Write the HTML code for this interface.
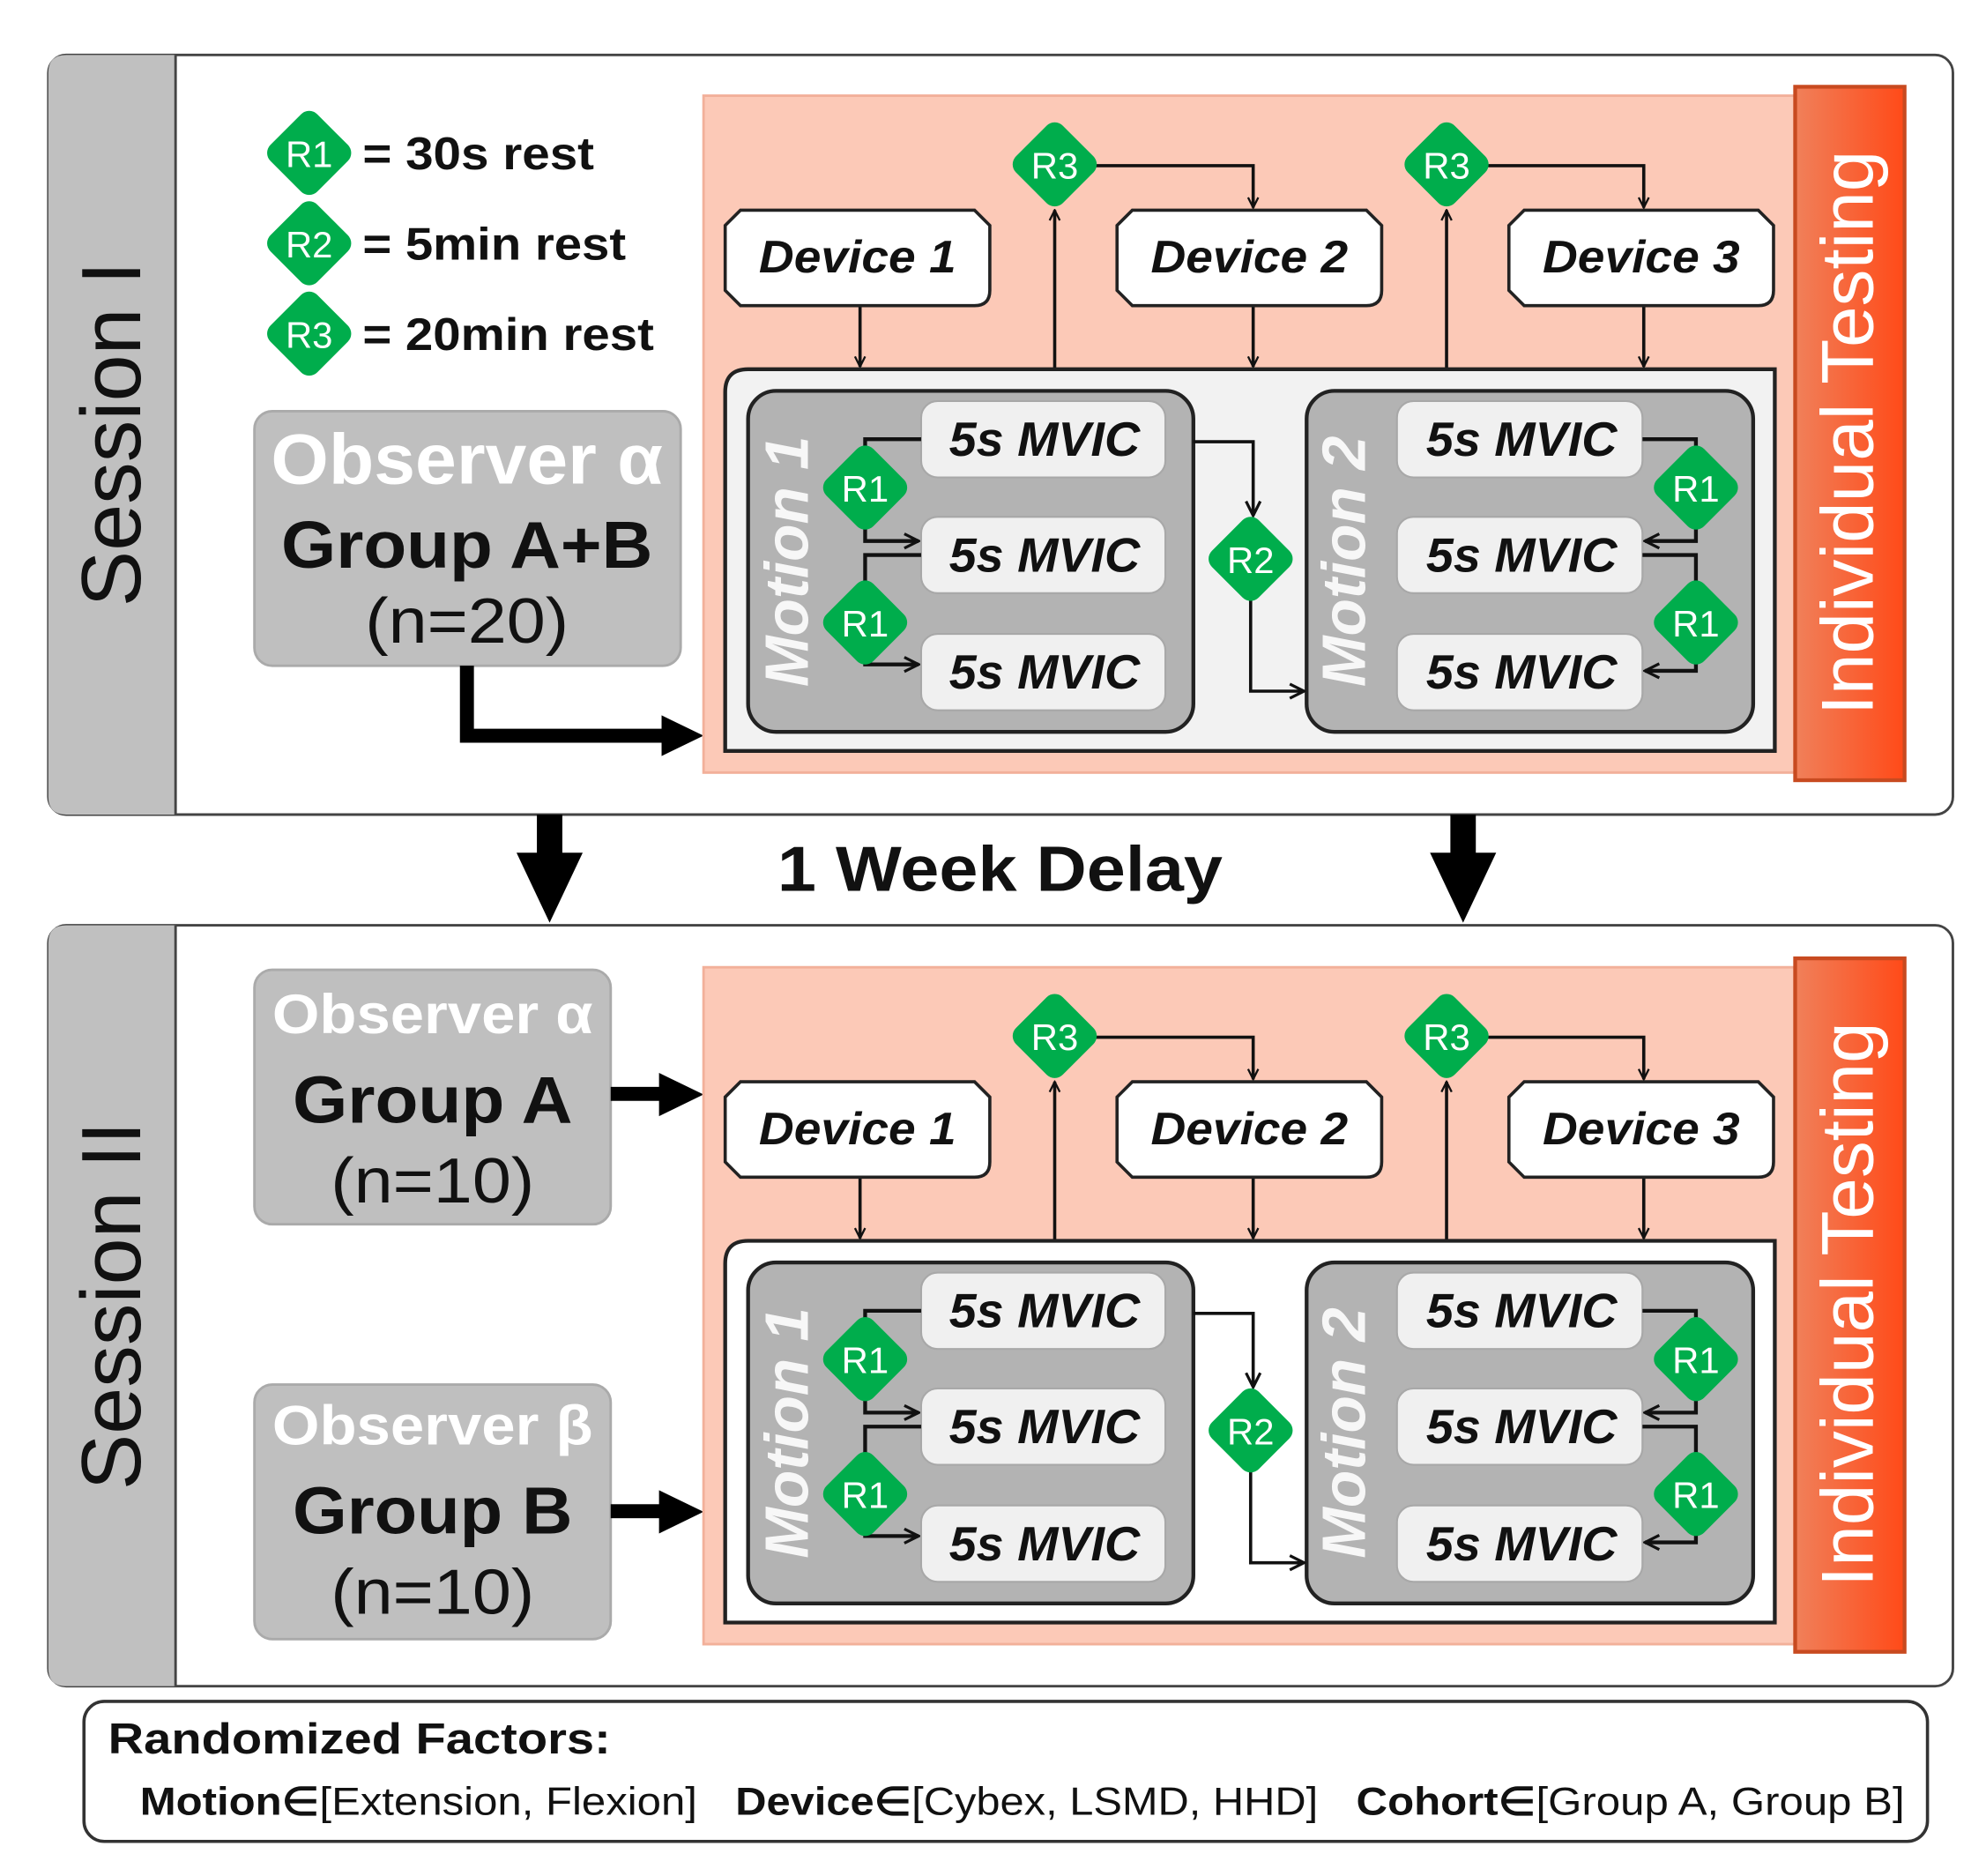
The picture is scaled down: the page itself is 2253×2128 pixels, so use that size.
<!DOCTYPE html>
<html><head><meta charset="utf-8"><style>
html,body{margin:0;padding:0;background:#fff;}
svg{display:block;}
text{font-family:"Liberation Sans",sans-serif;}
</style></head><body>
<svg width="2253" height="2128" viewBox="0 0 1561 1474" xmlns="http://www.w3.org/2000/svg">
<defs>
<marker id="a" viewBox="0 0 10 10" refX="9" refY="5" markerWidth="10" markerHeight="10" orient="auto" markerUnits="userSpaceOnUse">
<path d="M1,1 L9,5 L1,9" fill="none" stroke="#111" stroke-width="1.6"/></marker>
<marker id="am" viewBox="0 0 10 10" refX="9" refY="5" markerWidth="14" markerHeight="14" orient="auto" markerUnits="userSpaceOnUse">
<path d="M1,1 L9,5 L1,9" fill="none" stroke="#111" stroke-width="1.6"/></marker>
<linearGradient id="og" x1="0" x2="1" y1="0" y2="0"><stop offset="0" stop-color="#f0805a"/><stop offset="1" stop-color="#ff4a18"/></linearGradient>
<g id="dia"><rect x="-26" y="-26" width="52" height="52" rx="9" transform="rotate(45)" fill="#00ad4c"/></g>
</defs>

<rect x="38" y="43" width="1497" height="597" rx="14" fill="#fff" stroke="#444" stroke-width="2"/>
<path d="M52,43 H138 V640 H52 Q38,640 38,626 V57 Q38,43 52,43Z" fill="#c0c0c0"/>
<line x1="138" y1="43" x2="138" y2="640" stroke="#444" stroke-width="2"/>
<text transform="translate(110,341) rotate(-90)" text-anchor="middle" font-size="66" fill="#111">Session I</text>

<use href="#dia" x="243" y="120"/><text x="243" y="131" text-anchor="middle" font-size="29" fill="#fff">R1</text>
<use href="#dia" x="243" y="191"/><text x="243" y="202" text-anchor="middle" font-size="29" fill="#fff">R2</text>
<use href="#dia" x="243" y="262"/><text x="243" y="273" text-anchor="middle" font-size="29" fill="#fff">R3</text>
<text x="285" y="133" font-size="36" font-weight="bold" fill="#111" textLength="182" lengthAdjust="spacingAndGlyphs">= 30s rest</text>
<text x="285" y="204" font-size="36" font-weight="bold" fill="#111" textLength="207" lengthAdjust="spacingAndGlyphs">= 5min rest</text>
<text x="285" y="275" font-size="36" font-weight="bold" fill="#111" textLength="229" lengthAdjust="spacingAndGlyphs">= 20min rest</text>

<rect x="200" y="323" width="335" height="200" rx="14" fill="#bfbfbf" stroke="#aaa" stroke-width="2"/>
<text x="367" y="380" text-anchor="middle" font-size="56" font-weight="bold" fill="#fff" textLength="308" lengthAdjust="spacingAndGlyphs">Observer α</text>
<text x="367" y="446" text-anchor="middle" font-size="52" font-weight="bold" fill="#111" textLength="292" lengthAdjust="spacingAndGlyphs">Group A+B</text>
<text x="367" y="505" text-anchor="middle" font-size="50" fill="#111" textLength="160" lengthAdjust="spacingAndGlyphs">(n=20)</text>
<path d="M367,523 V578 H525" fill="none" stroke="#000" stroke-width="11"/>
<path d="M520,562 L553,578 L520,594Z" fill="#000"/>

<g>
<rect x="553" y="75" width="860" height="532" fill="#fcc9b7" stroke="#f2b09a" stroke-width="2"/>
<rect x="1411" y="68" width="86" height="545" fill="url(#og)" stroke="#c84a20" stroke-width="3"/>
<text transform="translate(1472,340) rotate(-90)" text-anchor="middle" font-size="58" fill="#fff">Individual Testing</text>
<g stroke="#111" stroke-width="2.5" fill="none">
<path d="M676,240 V288" marker-end="url(#a)"/>
<path d="M985,240 V288" marker-end="url(#a)"/>
<path d="M1292,240 V288" marker-end="url(#a)"/>
<path d="M829,290 V165" marker-end="url(#a)"/>
<path d="M1137,290 V165" marker-end="url(#a)"/>
<path d="M860,130 H985 V163" marker-end="url(#a)"/>
<path d="M1168,130 H1292 V163" marker-end="url(#a)"/>
</g>
<use href="#dia" x="829" y="129"/><text x="829" y="140" text-anchor="middle" font-size="29" fill="#fff">R3</text>
<use href="#dia" x="1137" y="129"/><text x="1137" y="140" text-anchor="middle" font-size="29" fill="#fff">R3</text>
<g fill="#fff" stroke="#222" stroke-width="2.5">
<path d="M582,165 H766 L778,177 V228 Q778,240 766,240 H582 L570,228 V177Z"/>
<path d="M890,165 H1074 L1086,177 V228 Q1086,240 1074,240 H890 L878,228 V177Z"/>
<path d="M1198,165 H1382 L1394,177 V228 Q1394,240 1382,240 H1198 L1186,228 V177Z"/>
</g>
<g font-size="36" font-weight="bold" font-style="italic" fill="#111" text-anchor="middle">
<text x="674" y="214" textLength="155" lengthAdjust="spacingAndGlyphs">Device 1</text>
<text x="982" y="214" textLength="155" lengthAdjust="spacingAndGlyphs">Device 2</text>
<text x="1290" y="214" textLength="155" lengthAdjust="spacingAndGlyphs">Device 3</text>
</g>
<path d="M588,290 H1395 V590 H570 V308 Q570,290 588,290Z" fill="#f2f2f2" stroke="#222" stroke-width="3"/>
<rect x="588" y="307" width="350" height="268" rx="22" fill="#b3b3b3" stroke="#222" stroke-width="3"/>
<rect x="1027" y="307" width="351" height="268" rx="22" fill="#b3b3b3" stroke="#222" stroke-width="3"/>
<text transform="translate(635,441) rotate(-90)" text-anchor="middle" font-size="48" font-weight="bold" font-style="italic" fill="#fff" opacity="0.9">Motion 1</text>
<text transform="translate(1073,441) rotate(-90)" text-anchor="middle" font-size="48" font-weight="bold" font-style="italic" fill="#fff" opacity="0.9">Motion 2</text>
<g fill="#f0f0f0" stroke="#a8a8a8" stroke-width="1.5">
<rect x="724" y="315" width="192" height="60" rx="13"/>
<rect x="724" y="406" width="192" height="60" rx="13"/>
<rect x="724" y="498" width="192" height="60" rx="13"/>
<rect x="1098" y="315" width="193" height="60" rx="13"/>
<rect x="1098" y="406" width="193" height="60" rx="13"/>
<rect x="1098" y="498" width="193" height="60" rx="13"/>
</g>
<g font-size="38" font-weight="bold" font-style="italic" fill="#111" text-anchor="middle">
<text x="821" y="358" textLength="150" lengthAdjust="spacingAndGlyphs">5s MVIC</text>
<text x="821" y="449" textLength="150" lengthAdjust="spacingAndGlyphs">5s MVIC</text>
<text x="821" y="541" textLength="150" lengthAdjust="spacingAndGlyphs">5s MVIC</text>
<text x="1196" y="358" textLength="150" lengthAdjust="spacingAndGlyphs">5s MVIC</text>
<text x="1196" y="449" textLength="150" lengthAdjust="spacingAndGlyphs">5s MVIC</text>
<text x="1196" y="541" textLength="150" lengthAdjust="spacingAndGlyphs">5s MVIC</text>
</g>
<g stroke="#111" stroke-width="3" fill="none">
<path d="M724,345 H680 V360"/>
<path d="M680,410 V425 H722" marker-end="url(#am)"/>
<path d="M724,436 H680 V460"/>
<path d="M680,515 V522 H722" marker-end="url(#am)"/>
<path d="M1291,345 H1333 V360"/>
<path d="M1333,410 V425 H1293" marker-end="url(#am)"/>
<path d="M1291,436 H1333 V460"/>
<path d="M1333,515 V527 H1293" marker-end="url(#am)"/>
<path d="M938,347 H985 V405" marker-end="url(#am)" stroke-width="2.5"/>
<path d="M983,470 V543 H1025" marker-end="url(#am)" stroke-width="2.5"/>
</g>
<use href="#dia" x="680" y="383"/><text x="680" y="394" text-anchor="middle" font-size="29" fill="#fff">R1</text>
<use href="#dia" x="680" y="489"/><text x="680" y="500" text-anchor="middle" font-size="29" fill="#fff">R1</text>
<use href="#dia" x="1333" y="383"/><text x="1333" y="394" text-anchor="middle" font-size="29" fill="#fff">R1</text>
<use href="#dia" x="1333" y="489"/><text x="1333" y="500" text-anchor="middle" font-size="29" fill="#fff">R1</text>
<use href="#dia" x="983" y="439"/><text x="983" y="450" text-anchor="middle" font-size="29" fill="#fff">R2</text>
</g>

<rect x="422" y="640" width="20" height="35" fill="#000"/>
<path d="M406,670 L458,670 L432,725Z" fill="#000"/>
<rect x="1140" y="640" width="20" height="35" fill="#000"/>
<path d="M1124,670 L1176,670 L1150,725Z" fill="#000"/>
<text x="786" y="700" text-anchor="middle" font-size="50" font-weight="bold" fill="#111" textLength="350" lengthAdjust="spacingAndGlyphs">1 Week Delay</text>

<rect x="38" y="727" width="1497" height="598" rx="14" fill="#fff" stroke="#444" stroke-width="2"/>
<path d="M52,727 H138 V1325 H52 Q38,1325 38,1311 V741 Q38,727 52,727Z" fill="#c0c0c0"/>
<line x1="138" y1="727" x2="138" y2="1325" stroke="#444" stroke-width="2"/>
<text transform="translate(110,1026) rotate(-90)" text-anchor="middle" font-size="66" fill="#111">Session II</text>

<rect x="200" y="762" width="280" height="200" rx="14" fill="#bfbfbf" stroke="#aaa" stroke-width="2"/>
<text x="340" y="812" text-anchor="middle" font-size="44" font-weight="bold" fill="#fff" textLength="252" lengthAdjust="spacingAndGlyphs">Observer α</text>
<text x="340" y="882" text-anchor="middle" font-size="52" font-weight="bold" fill="#111" textLength="220" lengthAdjust="spacingAndGlyphs">Group A</text>
<text x="340" y="945" text-anchor="middle" font-size="50" fill="#111" textLength="160" lengthAdjust="spacingAndGlyphs">(n=10)</text>
<rect x="200" y="1088" width="280" height="200" rx="14" fill="#bfbfbf" stroke="#aaa" stroke-width="2"/>
<text x="340" y="1135" text-anchor="middle" font-size="44" font-weight="bold" fill="#fff" textLength="252" lengthAdjust="spacingAndGlyphs">Observer β</text>
<text x="340" y="1205" text-anchor="middle" font-size="52" font-weight="bold" fill="#111" textLength="220" lengthAdjust="spacingAndGlyphs">Group B</text>
<text x="340" y="1268" text-anchor="middle" font-size="50" fill="#111" textLength="160" lengthAdjust="spacingAndGlyphs">(n=10)</text>
<rect x="480" y="854" width="42" height="11" fill="#000"/><path d="M518,843 L553,860 L518,877Z" fill="#000"/>
<rect x="480" y="1182" width="42" height="11" fill="#000"/><path d="M518,1171 L553,1188 L518,1205Z" fill="#000"/>

<g transform="translate(0,685)">
<rect x="553" y="75" width="860" height="532" fill="#fcc9b7" stroke="#f2b09a" stroke-width="2"/>
<rect x="1411" y="68" width="86" height="545" fill="url(#og)" stroke="#c84a20" stroke-width="3"/>
<text transform="translate(1472,340) rotate(-90)" text-anchor="middle" font-size="58" fill="#fff">Individual Testing</text>
<g stroke="#111" stroke-width="2.5" fill="none">
<path d="M676,240 V288" marker-end="url(#a)"/>
<path d="M985,240 V288" marker-end="url(#a)"/>
<path d="M1292,240 V288" marker-end="url(#a)"/>
<path d="M829,290 V165" marker-end="url(#a)"/>
<path d="M1137,290 V165" marker-end="url(#a)"/>
<path d="M860,130 H985 V163" marker-end="url(#a)"/>
<path d="M1168,130 H1292 V163" marker-end="url(#a)"/>
</g>
<use href="#dia" x="829" y="129"/><text x="829" y="140" text-anchor="middle" font-size="29" fill="#fff">R3</text>
<use href="#dia" x="1137" y="129"/><text x="1137" y="140" text-anchor="middle" font-size="29" fill="#fff">R3</text>
<g fill="#fff" stroke="#222" stroke-width="2.5">
<path d="M582,165 H766 L778,177 V228 Q778,240 766,240 H582 L570,228 V177Z"/>
<path d="M890,165 H1074 L1086,177 V228 Q1086,240 1074,240 H890 L878,228 V177Z"/>
<path d="M1198,165 H1382 L1394,177 V228 Q1394,240 1382,240 H1198 L1186,228 V177Z"/>
</g>
<g font-size="36" font-weight="bold" font-style="italic" fill="#111" text-anchor="middle">
<text x="674" y="214" textLength="155" lengthAdjust="spacingAndGlyphs">Device 1</text>
<text x="982" y="214" textLength="155" lengthAdjust="spacingAndGlyphs">Device 2</text>
<text x="1290" y="214" textLength="155" lengthAdjust="spacingAndGlyphs">Device 3</text>
</g>
<path d="M588,290 H1395 V590 H570 V308 Q570,290 588,290Z" fill="#fff" stroke="#222" stroke-width="3"/>
<rect x="588" y="307" width="350" height="268" rx="22" fill="#b3b3b3" stroke="#222" stroke-width="3"/>
<rect x="1027" y="307" width="351" height="268" rx="22" fill="#b3b3b3" stroke="#222" stroke-width="3"/>
<text transform="translate(635,441) rotate(-90)" text-anchor="middle" font-size="48" font-weight="bold" font-style="italic" fill="#fff" opacity="0.9">Motion 1</text>
<text transform="translate(1073,441) rotate(-90)" text-anchor="middle" font-size="48" font-weight="bold" font-style="italic" fill="#fff" opacity="0.9">Motion 2</text>
<g fill="#f0f0f0" stroke="#a8a8a8" stroke-width="1.5">
<rect x="724" y="315" width="192" height="60" rx="13"/>
<rect x="724" y="406" width="192" height="60" rx="13"/>
<rect x="724" y="498" width="192" height="60" rx="13"/>
<rect x="1098" y="315" width="193" height="60" rx="13"/>
<rect x="1098" y="406" width="193" height="60" rx="13"/>
<rect x="1098" y="498" width="193" height="60" rx="13"/>
</g>
<g font-size="38" font-weight="bold" font-style="italic" fill="#111" text-anchor="middle">
<text x="821" y="358" textLength="150" lengthAdjust="spacingAndGlyphs">5s MVIC</text>
<text x="821" y="449" textLength="150" lengthAdjust="spacingAndGlyphs">5s MVIC</text>
<text x="821" y="541" textLength="150" lengthAdjust="spacingAndGlyphs">5s MVIC</text>
<text x="1196" y="358" textLength="150" lengthAdjust="spacingAndGlyphs">5s MVIC</text>
<text x="1196" y="449" textLength="150" lengthAdjust="spacingAndGlyphs">5s MVIC</text>
<text x="1196" y="541" textLength="150" lengthAdjust="spacingAndGlyphs">5s MVIC</text>
</g>
<g stroke="#111" stroke-width="3" fill="none">
<path d="M724,345 H680 V360"/>
<path d="M680,410 V425 H722" marker-end="url(#am)"/>
<path d="M724,436 H680 V460"/>
<path d="M680,515 V522 H722" marker-end="url(#am)"/>
<path d="M1291,345 H1333 V360"/>
<path d="M1333,410 V425 H1293" marker-end="url(#am)"/>
<path d="M1291,436 H1333 V460"/>
<path d="M1333,515 V527 H1293" marker-end="url(#am)"/>
<path d="M938,347 H985 V405" marker-end="url(#am)" stroke-width="2.5"/>
<path d="M983,470 V543 H1025" marker-end="url(#am)" stroke-width="2.5"/>
</g>
<use href="#dia" x="680" y="383"/><text x="680" y="394" text-anchor="middle" font-size="29" fill="#fff">R1</text>
<use href="#dia" x="680" y="489"/><text x="680" y="500" text-anchor="middle" font-size="29" fill="#fff">R1</text>
<use href="#dia" x="1333" y="383"/><text x="1333" y="394" text-anchor="middle" font-size="29" fill="#fff">R1</text>
<use href="#dia" x="1333" y="489"/><text x="1333" y="500" text-anchor="middle" font-size="29" fill="#fff">R1</text>
<use href="#dia" x="983" y="439"/><text x="983" y="450" text-anchor="middle" font-size="29" fill="#fff">R2</text>
</g>

<rect x="66" y="1337" width="1449" height="110" rx="16" fill="#fff" stroke="#333" stroke-width="2.5"/>
<text x="85" y="1378" font-size="34" font-weight="bold" fill="#111" textLength="395" lengthAdjust="spacingAndGlyphs">Randomized Factors:</text>
<text x="110" y="1426" font-size="31" fill="#111" textLength="438" lengthAdjust="spacingAndGlyphs"><tspan font-weight="bold">Motion</tspan><tspan font-weight="bold">∈</tspan>[Extension, Flexion]</text>
<text x="578" y="1426" font-size="31" fill="#111" textLength="458" lengthAdjust="spacingAndGlyphs"><tspan font-weight="bold">Device</tspan><tspan font-weight="bold">∈</tspan>[Cybex, LSMD, HHD]</text>
<text x="1066" y="1426" font-size="31" fill="#111" textLength="431" lengthAdjust="spacingAndGlyphs"><tspan font-weight="bold">Cohort</tspan><tspan font-weight="bold">∈</tspan>[Group A, Group B]</text>
</svg>
</body></html>
